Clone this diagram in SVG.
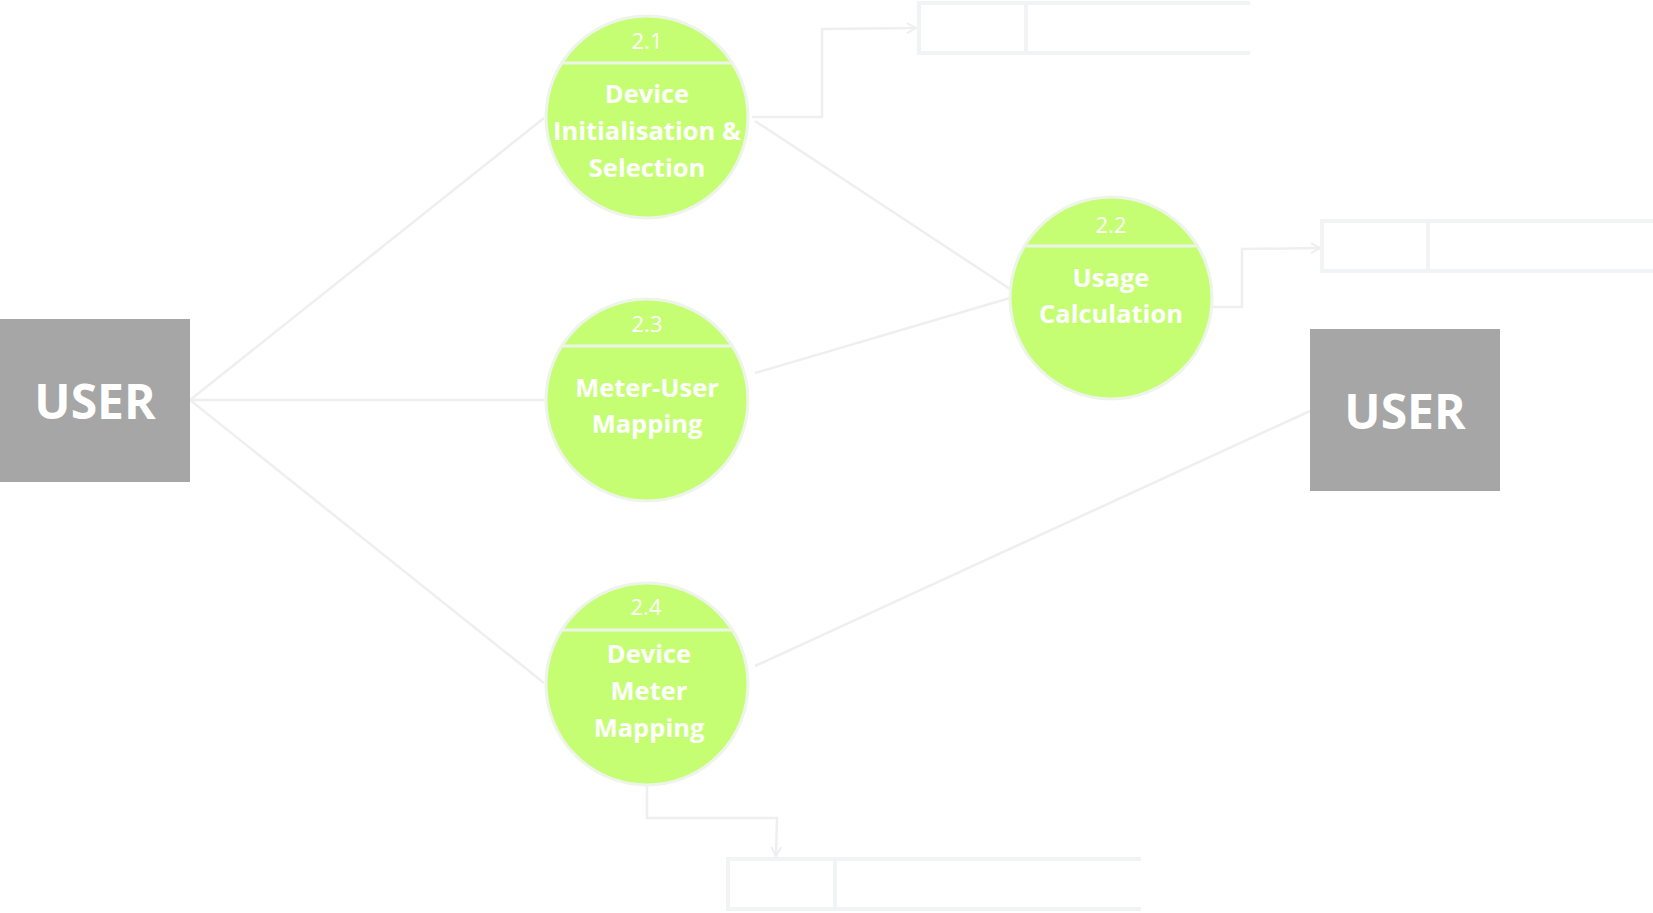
<svg xmlns="http://www.w3.org/2000/svg" width="1653" height="913" viewBox="0 0 1653 913">
<defs>
<style>
.bg{fill:#ffffff}
.proc{fill:#c5fe73;stroke:#eef4ea;stroke-width:3}
.div{stroke:#eef4ea;stroke-width:3;fill:none}
.num{font-family:"Open Sans","Liberation Sans",sans-serif;font-weight:400;font-size:22px;fill:#ffffff;text-anchor:middle}
.title{font-family:"Open Sans","Liberation Sans",sans-serif;font-weight:700;font-size:25.5px;fill:#ffffff;text-anchor:middle}
.ext{fill:#a6a6a6}
.extt{font-family:"Open Sans","Liberation Sans",sans-serif;font-weight:700;font-size:48px;fill:#ffffff;text-anchor:middle}
.store{fill:none;stroke:#f2f3f5;stroke-width:4}
.flow{fill:none;stroke:#efefef;stroke-width:2.5}
</style>
<marker id="arr" viewBox="0 0 12 12" refX="10" refY="6" markerWidth="12" markerHeight="12" markerUnits="userSpaceOnUse" orient="auto">
<path d="M1,1 L10,6 L1,11" fill="none" stroke="#efefef" stroke-width="2"/>
</marker>
</defs>
<rect class="bg" x="0" y="0" width="1653" height="913"/>

<g id="connectors">
<line class="flow" x1="190" y1="400" x2="544" y2="118"/>
<line class="flow" x1="190" y1="400" x2="545" y2="400"/>
<line class="flow" x1="190" y1="400" x2="544" y2="683"/>
<polyline class="flow" points="752,117 822,117 822,29 916,28" marker-end="url(#arr)"/>
<line class="flow" x1="755" y1="121" x2="1010" y2="289"/>
<line class="flow" x1="755" y1="373" x2="1010" y2="298"/>
<polyline class="flow" points="1213,307 1242,307 1242,249 1320,248" marker-end="url(#arr)"/>
<line class="flow" x1="755" y1="666" x2="1310" y2="411"/>
<polyline class="flow" points="647,785 647,818 777,818 776,856" marker-end="url(#arr)"/>
</g>

<g id="store1">
<path class="store" d="M1250,3 L919,3 L919,53 L1250,53 M1026,3 L1026,53"/>
</g>
<g id="store2">
<path class="store" d="M1653,221 L1322,221 L1322,271 L1653,271 M1428,221 L1428,271"/>
</g>
<g id="store3">
<path class="store" d="M1141,859 L728,859 L728,909 L1141,909 M835,859 L835,909"/>
</g>

<g id="user-left">
<rect class="ext" x="0" y="319" width="190" height="163"/>
<text class="extt" x="95" y="419">USER</text>
</g>
<g id="user-right">
<rect class="ext" x="1310" y="329" width="190" height="162"/>
<text class="extt" x="1405" y="429">USER</text>
</g>

<g id="p21">
<circle class="proc" cx="647" cy="117" r="101"/>
<line class="div" x1="562" y1="63" x2="732" y2="63"/>
<text class="num" x="647" y="49">2.1</text>
<text class="title" x="647" y="103">Device</text>
<text class="title" x="647" y="140">Initialisation &amp;</text>
<text class="title" x="647" y="177">Selection</text>
</g>

<g id="p23">
<circle class="proc" cx="647" cy="400" r="101"/>
<line class="div" x1="562" y1="346" x2="732" y2="346"/>
<text class="num" x="647" y="332">2.3</text>
<text class="title" x="647" y="397">Meter-User</text>
<text class="title" x="647" y="433">Mapping</text>
</g>

<g id="p24">
<circle class="proc" cx="647" cy="684" r="101"/>
<line class="div" x1="562" y1="630" x2="732" y2="630"/>
<text class="num" x="646" y="615">2.4</text>
<text class="title" x="649" y="663">Device</text>
<text class="title" x="649" y="700">Meter</text>
<text class="title" x="649" y="737">Mapping</text>
</g>

<g id="p22">
<circle class="proc" cx="1111" cy="298" r="101"/>
<line class="div" x1="1026" y1="246" x2="1196" y2="246"/>
<text class="num" x="1111" y="233">2.2</text>
<text class="title" x="1111" y="287">Usage</text>
<text class="title" x="1111" y="323">Calculation</text>
</g>
</svg>
